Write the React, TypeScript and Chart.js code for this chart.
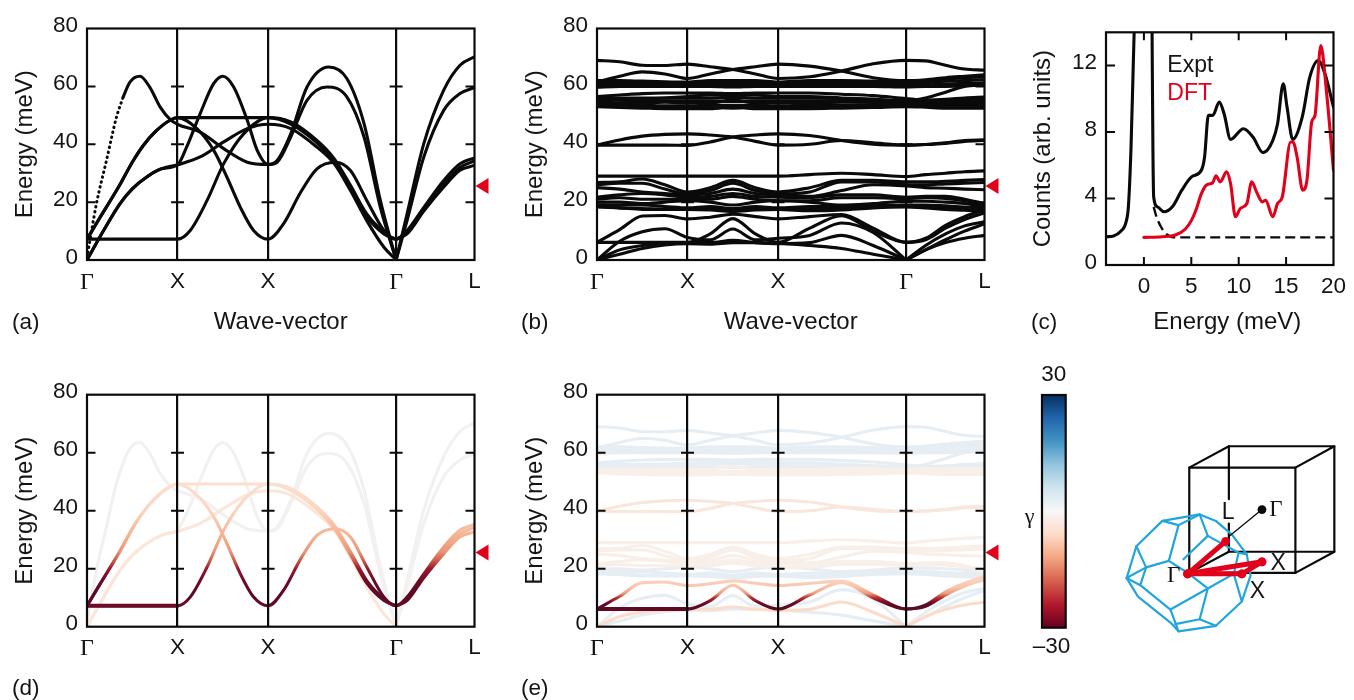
import React, { useEffect, useRef } from "react";
import { Chart, registerables } from "chart.js";

Chart.register(...registerables);

const SANS = "'Liberation Sans', Arial, sans-serif";
const SERIF = "'Liberation Serif', serif";
const BLACK = "#0a0a0a";
const RED = "#e2001a";
const INK = "#141414";

// ---- shared axis content
const pathTicks = [0, 1, 2, 3.414, 4.28];
const pathLabels = ["Γ", "X", "X", "Γ", "L"];
const energyTicks = [0, 20, 40, 60, 80];
const markerEnergy = 25.6;

// ---- panel (a)/(d): bands as [wave-vector, energy]
const bandOne: number[][] = [[0, 7.2], [0.5, 7.2], [1, 7.2], [1.14, 10.2], [1.325, 20.5], [1.51, 33.3], [1.73, 43.6], [2, 49.2], [2.25, 47.7], [2.54, 41.3], [2.73, 35], [2.91, 25.8], [3.09, 15.9], [3.28, 9.6], [3.414, 7.2], [3.535, 10.2], [3.72, 18.2], [3.94, 27.5], [4.12, 33.3], [4.28, 35.3]];
const bandTwo: number[][] = [[0, 7.2], [0.14, 14.5], [0.35, 25.3], [0.51, 34.3], [0.62, 39.5], [0.76, 44.5], [0.917, 48.3], [1, 49.2], [1.214, 45.4], [1.4, 37.9], [1.546, 28.6], [1.694, 18.2], [1.84, 10.2], [2, 7.2], [2.17, 12.5], [2.36, 23.4], [2.54, 31.5], [2.744, 33.8], [2.91, 30.9], [3.09, 20.6], [3.28, 10.2], [3.414, 7.2], [3.535, 9.9], [3.72, 17.3], [3.94, 26.3], [4.12, 32], [4.28, 34.2]];
const bandThree: number[][] = [[0, 0], [0.18, 10], [0.365, 19.5], [0.5, 24.6], [0.66, 28.7], [0.82, 31.5], [1, 32.9], [1.25, 35.6], [1.51, 40.8], [1.77, 45.4], [2, 46.9], [2.25, 45.4], [2.54, 39], [2.73, 33.3], [2.91, 24], [3.09, 13.6], [3.28, 4.4], [3.414, 0]];
const bandThreeEnd: number[][] = [[3.414, 7.2], [3.535, 9], [3.72, 16.9], [3.94, 25.2], [4.12, 31], [4.28, 32.7]];
const bandFour: number[][] = [[0, 0.9], [0.104, 19.4], [0.215, 34.4], [0.326, 49.4], [0.4, 56.4], [0.474, 61.5], [0.585, 63.5], [0.696, 59.6], [0.807, 52.9], [0.92, 48.5], [1, 46.9], [1.25, 44.2], [1.51, 38.5], [1.77, 33.8], [2, 33], [2.1, 34.4], [2.25, 43.6], [2.43, 59.8], [2.67, 66.7], [2.87, 62.7], [3.06, 47.1], [3.24, 20.6], [3.414, 0], [3.535, 15.9], [3.72, 40.2], [3.94, 58.7], [4.12, 67.3], [4.28, 70.2]];
const bandFive: number[][] = [[0, 0], [0.18, 10], [0.365, 19.5], [0.5, 24.6], [0.66, 28.7], [0.82, 31.5], [1, 32.9], [1.1, 39], [1.25, 50.6], [1.4, 61], [1.5, 63.5], [1.62, 59.8], [1.77, 48.3], [1.88, 37.9], [2, 33], [2.1, 33.8], [2.25, 42.5], [2.43, 55.2], [2.65, 59.8], [2.87, 56.4], [3.06, 42.5], [3.24, 18.2], [3.414, 0], [3.535, 13.6], [3.72, 35.6], [3.94, 51.7], [4.12, 57.5], [4.28, 59.6]];
const bandSix: number[][] = [[0, 7.2], [0.14, 14.5], [0.35, 25.3], [0.51, 34.3], [0.62, 39.5], [0.76, 44.5], [0.917, 48.3], [1, 49.2], [1.5, 49.2], [2, 49.2], [2.25, 47], [2.54, 40.5], [2.73, 34], [2.91, 24.8], [3.09, 15], [3.28, 9], [3.414, 7.2]];
const acousticStyle = [bandOne, bandTwo, bandThree, bandThreeEnd, bandFive, bandSix];

// ---- panel (b)/(e): energy at these wave-vector stations
const stations = [0, 0.25, 0.5, 0.75, 1, 1.25, 1.5, 1.75, 2, 2.35, 2.7, 3.05, 3.414, 3.63, 3.85, 4.06, 4.28];
const h1 = [69, 68.5, 67.3, 67.2, 67.7, 66.8, 65.8, 64.3, 62.7, 63.3, 65.3, 67.8, 69, 68.8, 67.3, 66, 65.6];
const h2 = [61.5, 63.5, 65, 64.3, 62.7, 64.3, 65.8, 66.8, 67.7, 67, 65.3, 63, 62, 62.3, 63, 63.5, 64];
const h3 = [62, 62, 61.8, 61.6, 61.5, 62, 62, 62, 61.5, 62, 62, 61.8, 61.5, 61.5, 62.5, 63, 63.2];
const h4 = [61, 61, 61, 61, 61, 61, 61, 61, 61, 61, 61, 61.2, 61, 61.3, 61.8, 62, 62.3];
const h5 = [60.3, 60.3, 60.5, 60.5, 60.5, 60.5, 60.3, 60.5, 60.5, 60.5, 60.5, 60.5, 60.3, 60.5, 60.8, 61, 61.2];
const h6 = [59.7, 60, 60, 60, 60, 60, 59.8, 60, 60, 60, 60, 60, 59.8, 60, 60, 60.2, 60.5];
const h7 = [55.3, 55.5, 55.7, 56, 56.5, 57, 57, 57, 56.5, 56.5, 56, 55.5, 55, 56, 58, 60, 60.5];
const m1 = [56.5, 57, 57.5, 57.7, 57.7, 57.7, 57.5, 57.7, 57.7, 57.7, 57.3, 56.8, 55.8, 55.3, 55.5, 56, 56.3];
const m2 = [56, 56, 56, 56, 56, 56, 56.2, 56, 56, 56, 55.8, 55.5, 55, 55, 55.2, 55.5, 55.5];
const m3 = [55, 55.2, 55, 55, 55, 55, 54.8, 55, 55, 55, 55, 54.8, 54.8, 55, 55, 55, 55];
const m4 = [54, 54.3, 54.3, 54.5, 54.3, 54.3, 55.3, 54.3, 54.3, 54.3, 54.5, 54.5, 54.3, 54.5, 54.5, 54.5, 54.5];
const m5 = [53.7, 53.5, 53.5, 53.3, 53.3, 53.5, 53.5, 53.5, 53.3, 53.5, 53.5, 53.7, 53.8, 53.8, 53.8, 53.8, 54];
const m6 = [53.3, 53, 52.8, 52.7, 52.7, 52.7, 52.5, 52.7, 52.7, 52.7, 52.8, 53, 53.3, 53.3, 53.2, 53, 53];
const m7 = [53, 52.7, 52.5, 52.3, 52.3, 52.3, 53, 52.3, 52.3, 52.3, 52.5, 52.7, 53, 52.8, 52.5, 52.5, 52.5];
const c1 = [39.7, 41.5, 42.8, 43.4, 43.6, 43.2, 42.5, 41, 39.7, 40, 41.3, 40.5, 39.7, 39.9, 40.5, 41.3, 41.5];
const c2 = [39.7, 39.7, 39.7, 39.7, 39.6, 40.8, 42.5, 43.2, 43.6, 43, 41.3, 40, 39.7, 39.9, 40.3, 41, 41.3];
const t1 = [29, 29, 29, 29, 29, 29, 29, 29, 29, 29.5, 30, 29.5, 28.8, 29.5, 30, 30.5, 30.8];
const t2 = [26.8, 27, 28, 26, 23.5, 25, 27.5, 25, 23.5, 25, 27.5, 27.5, 27, 27, 27.2, 27.5, 27.8];
const t3 = [26, 26.5, 26.5, 24.5, 22.8, 24, 26.5, 24, 22.8, 23.5, 27, 27, 26, 26, 26.3, 26.5, 26.8];
const t4 = [25, 24.5, 23.5, 23, 22.5, 23, 24.5, 23, 22.5, 22, 24, 26, 25.6, 25, 24.8, 24.5, 24.3];
const t5 = [21.7, 22.5, 23, 22.5, 21.7, 22, 23, 22, 21.7, 21.5, 22.5, 22.5, 21.7, 22, 22, 21, 19.5];
const t6 = [21, 21.5, 21, 21, 21, 21, 22, 21, 20.5, 20.5, 21.5, 21.5, 21.2, 21.5, 21.3, 20.5, 19];
const t7 = [20, 20, 19.5, 20, 20.5, 20, 19, 20, 20.5, 20, 19, 19.5, 20.3, 20.3, 20, 19.5, 18.5];
const t8 = [19, 19, 19, 18.5, 18, 18.5, 17.8, 18.5, 18, 18.5, 18.5, 19, 19, 19, 18.7, 18.3, 18];
const t9 = [18.5, 18, 17.8, 17.5, 17.8, 17.8, 17, 17.8, 17.8, 17.5, 17.8, 18.5, 18.5, 18.3, 18, 17.5, 17];
const t10 = [18.3, 18, 17.5, 17.5, 17.5, 17.3, 16.8, 17.3, 17.5, 17, 17.3, 18, 18.3, 18, 17.5, 17.2, 16.8];
const b1 = [6.1, 10.5, 15.2, 15.4, 14.2, 14.8, 15.8, 15, 14.2, 15, 15.7, 11, 6.1, 7.5, 12, 15, 17.3];
const b2 = [6.1, 6.1, 6.1, 6.1, 6.1, 9, 14.3, 9, 6.1, 11, 15.3, 10, 6.1, 7, 11, 14, 16.3];
const b3 = [0, 6.5, 9.8, 10.8, 7.8, 7, 10.7, 7, 7.5, 8.5, 12.8, 9.5, 0, 5, 9, 11.8, 13.2];
const b4 = [0, 3.5, 5, 5.6, 6, 6, 6.8, 6, 5.6, 6, 8.5, 5, 0, 3.5, 6, 7.5, 8.5];
const b5 = [0, 2, 4, 5.2, 5.6, 5.5, 6, 6, 5.8, 5, 4, 2, 0, 3.5, 7, 10, 12.5];
const allOpticalBands = [h1, h2, h3, h4, h5, h6, h7, m1, m2, m3, m4, m5, m6, m7, c1, c2, t1, t2, t3, t4, t5, t6, t7, t8, t9, t10, b1, b2, b3, b4, b5];

// ---- panel (c)
const exptRise: number[][] = [[-4, 1.7], [-3.2, 1.75], [-2.5, 2], [-1.88, 2.6], [-1.64, 3.5], [-1.37, 6.9], [-1.13, 11.9], [-1.03, 14]];
const exptTail: number[][] = [[0.86, 14], [0.95, 7], [1.03, 4.1], [1.44, 3.5], [2.1, 3.2], [3, 3.5], [4, 4.5], [5.03, 5.3], [6.06, 5.7], [6.4, 6.5], [6.8, 9], [7.26, 9], [7.95, 9.8], [8.46, 9.1], [9.14, 7.56], [10.5, 8.2], [11.5, 7.7], [12.57, 6.76], [13.6, 7.5], [14.1, 8.5], [14.7, 10.9], [15.1, 9.5], [15.7, 7.56], [16.7, 8.9], [17.5, 11.3], [18.4, 12.3], [19.1, 11.5], [20, 9.5]];
const elasticLine: number[][] = [[1.03, 3.5], [1.27, 3], [1.8, 2.3], [2.3, 1.9], [3.3, 1.66], [20, 1.66]];
const dftCurve: number[][] = [[0, 1.66], [1.95, 1.7], [3.32, 1.8], [4.35, 2.15], [5.03, 2.7], [5.55, 3.4], [6, 4.2], [6.58, 4.8], [7.26, 4.95], [7.6, 5.36], [8.05, 5], [8.73, 5.6], [9.14, 4.9], [9.66, 2.9], [10.17, 3.4], [10.86, 3.7], [11.37, 5], [11.88, 4.4], [12.5, 3.8], [12.84, 3.9], [13.6, 2.9], [14.1, 3.7], [14.6, 4.1], [15.48, 7.4], [15.72, 7.4], [16.16, 6.5], [16.75, 4.5], [17.2, 5.1], [17.7, 8.6], [18.05, 9], [18.66, 13.2], [19.25, 10.5], [20, 5.7]];
const countTicks = [0, 4, 8, 12];
const meVTicks = [0, 5, 10, 15, 20];

// ---- colour bar
const gammaRange = [-30, 30];
const gammaStops = ["#67001f", "#b2182b", "#d6604d", "#f4a582", "#fddbc7", "#f7f7f7", "#d1e5f0", "#92c5de", "#4393c3", "#2166ac", "#053061"];

// ---- colour scales along energy for (d), (e)
const toneDValues = [7, 10, 16, 20, 23, 26, 30, 34, 40, 49];
const toneDColors = ["#6e0c28", "#5a0a24", "#6d0a26", "#9a1a2c", "#cf5f4c", "#eb9577", "#f5ab88", "#f6bd9f", "#fad5c0", "#fbdfcf"];
const toneEValues = [7.5, 8.5, 10, 11.5, 13.5, 16, 20];
const toneEColors = ["#5e0a24", "#7a0a26", "#b8322f", "#ee9c7d", "#f8c3a8", "#fad2bd", "#fad8c6"];
const FAINT = "#f2f1ef";
const PALE = "#fbe6da";
const ICE = "#e6eef4";
const MIST = "#f8efe9";
const PEACH = "#f9e6dc";
const SALMON = "#fbdcca";

// ---- Brillouin-zone sketch, drawn on a 1002x1020 sketch scale
const cubeLines: number[][][] = [
  [[508, 318], [835, 318], [835, 642], [508, 642], [508, 318]],
  [[508, 318], [630, 252], [955, 252], [835, 318]],
  [[955, 252], [955, 577], [835, 642]],
  [[508, 642], [630, 577], [955, 577]],
  [[630, 252], [630, 415]],
  [[630, 490], [630, 577]],
];
const zoneLines: number[][][] = [
  [[425, 482], [345, 560], [315, 658], [350, 715], [450, 795], [475, 822], [590, 805], [670, 730], [697, 650], [685, 585], [640, 525], [590, 482], [540, 462], [425, 482]],
  [[425, 482], [475, 495], [540, 462]],
  [[475, 495], [445, 605]],
  [[540, 462], [565, 528]],
  [[345, 560], [375, 625], [315, 658]],
  [[375, 625], [445, 605], [500, 640]],
  [[375, 625], [357, 680], [450, 755]],
  [[315, 658], [357, 680]],
  [[450, 755], [565, 690], [540, 785]],
  [[450, 755], [475, 822]],
  [[465, 800], [540, 785], [590, 805]],
  [[565, 690], [645, 645], [670, 730]],
  [[645, 645], [660, 580], [685, 585]],
  [[565, 528], [490, 600]],
  [[565, 528], [660, 580]],
  [[500, 640], [565, 690]],
];
const pointerLine: number[][] = [[630, 530], [732, 447]];
const redPath: number[][][] = [
  [[503, 645], [620, 545]],
  [[503, 645], [732, 608]],
  [[503, 645], [670, 645]],
  [[670, 645], [732, 608]],
];

type Note = { text: string; x: number; y: number; font: string; color?: string; align?: CanvasTextAlign };

const toXY = (pts: number[][]) => pts.map(([x, y]) => ({ x, y }));
const slice = (pts: number[][], lo: number, hi: number) => pts.filter(([x]) => x >= lo && x <= hi);
const stationPts = (vals: number[]) => vals.map((y, i) => [stations[i], y]);

// Chart.js paints the first dataset last; lists below are written bottom layer first
const bottomFirst = (list: any[]) => list.slice().reverse();

// acoustic branches meet the zero of energy in a sharp V, so the curve is cut there
function cutAtZero(pts: number[][]) {
  const out: number[][][] = [];
  let cur: number[][] = [];
  pts.forEach((p, i) => {
    cur.push(p);
    if (p[1] === 0 && i > 0 && i < pts.length - 1) {
      out.push(cur);
      cur = [p];
    }
  });
  out.push(cur);
  return out;
}

function toneGradient(values: number[], colors: string[]) {
  return (ctx: any) => {
    const chart = ctx.chart;
    if (!chart.chartArea) return colors[0];
    const y = chart.scales.y;
    const lo = values[0];
    const hi = values[values.length - 1];
    const g = chart.ctx.createLinearGradient(0, y.getPixelForValue(lo), 0, y.getPixelForValue(hi));
    values.forEach((v, i) => g.addColorStop((v - lo) / (hi - lo), colors[i]));
    return g;
  };
}

const WIDTH = 3.1;

const line = (pts: number[][], color: any, width = WIDTH, extra: any = {}) => ({
  data: toXY(pts),
  showLine: true,
  pointRadius: 0,
  borderColor: color,
  borderWidth: width,
  cubicInterpolationMode: "monotone",
  borderJoinStyle: "round",
  borderCapStyle: "round",
  ...extra,
});

const lines = (pts: number[][], color: any, width = WIDTH) => cutAtZero(pts).map((p) => line(p, color, width));

const marksPlugin = {
  id: "marks",
  afterDraw(chart: any, _args: any, o: any) {
    const { ctx, chartArea: a, scales } = chart;
    const sx = scales.x;
    const sy = scales.y;
    ctx.save();
    ctx.strokeStyle = BLACK;
    ctx.lineWidth = 2.2;
    if (o.frame !== false) {
      ctx.strokeRect(a.left, a.top, a.right - a.left, a.bottom - a.top);
    }
    ctx.lineWidth = 2;
    ctx.beginPath();
    (o.yTicks || []).forEach((v: number) => {
      const p = sy.getPixelForValue(v);
      if (o.leftLen) { ctx.moveTo(a.left, p); ctx.lineTo(a.left + o.leftLen, p); }
      if (o.rightLen) { ctx.moveTo(a.right, p); ctx.lineTo(a.right - o.rightLen, p); }
      (o.crossX || []).forEach((x: number) => {
        const px = sx.getPixelForValue(x);
        ctx.moveTo(px - 6.5, p);
        ctx.lineTo(px + 6.5, p);
      });
    });
    (o.xTicks || []).forEach((v: number) => {
      const p = sx.getPixelForValue(v);
      ctx.moveTo(p, a.bottom); ctx.lineTo(p, a.bottom - 8);
      ctx.moveTo(p, a.top); ctx.lineTo(p, a.top + 8);
    });
    ctx.stroke();
    if (o.marker !== undefined) {
      const p = sy.getPixelForValue(o.marker);
      ctx.fillStyle = RED;
      ctx.beginPath();
      ctx.moveTo(a.right + 1, p);
      ctx.lineTo(a.right + 14, p - 8);
      ctx.lineTo(a.right + 14, p + 8);
      ctx.closePath();
      ctx.fill();
    }
    (o.notes || []).forEach((n: Note) => {
      ctx.font = n.font;
      ctx.fillStyle = n.color || INK;
      ctx.textAlign = n.align || "center";
      ctx.textBaseline = "middle";
      ctx.fillText(n.text, sx.getPixelForValue(n.x), sy.getPixelForValue(n.y));
    });
    ctx.restore();
  },
};

const TICK_FONT = { family: SANS, size: 22.5 };
const TITLE_FONT = { family: SANS, size: 24, lineHeight: 1 };

function fixedTicks(vals: number[]) {
  return (s: any) => {
    s.ticks = vals.map((value) => ({ value }));
  };
}

function bandOptions(titleBottom: number, height: number, top: number, plotHeight: number) {
  return {
    responsive: false,
    animation: false,
    events: [],
    layout: { padding: { left: 0, right: 25.5, top, bottom: 0 } },
    plugins: { legend: { display: false }, tooltip: { enabled: false }, title: { display: false }, marks: { frame: true, yTicks: [20, 40, 60], crossX: [1, 2, 3.414], rightLen: 9, leftLen: 8.5, marker: markerEnergy } },
    scales: {
      x: {
        type: "linear",
        min: 0,
        max: 4.28,
        afterBuildTicks: fixedTicks(pathTicks),
        afterFit: (s: any) => { s.height = height - top - plotHeight; },
        grid: { z: 1, color: BLACK, lineWidth: (c: any) => (c.index === 0 || c.index === 4 ? 0 : 2.2), drawTicks: false },
        border: { display: false },
        ticks: {
          autoSkip: false,
          maxRotation: 0,
          padding: 8,
          color: INK,
          font: (c: any) => (c.index === 0 || c.index === 3 ? { family: SERIF, size: 24 } : TICK_FONT),
          callback: (_v: any, i: number) => pathLabels[i],
        },
        title: { display: true, text: "Wave-vector", color: INK, font: TITLE_FONT, padding: { top: 0, bottom: height - titleBottom - 12 } },
      },
      y: {
        min: 0,
        max: 80,
        afterBuildTicks: fixedTicks(energyTicks),
        afterFit: (s: any) => { s.width = 87; },
        grid: { display: false, drawTicks: false },
        border: { display: false },
        ticks: { padding: 9, color: INK, font: TICK_FONT, labelOffset: -2.7 },
        title: { display: true, text: "Energy (meV)", color: INK, font: TITLE_FONT, padding: { top: 13, bottom: 0 } },
      },
    },
  };
}

function Panel({ left, top, width, height, make }: { left: number; top: number; width: number; height: number; make: (c: HTMLCanvasElement) => Chart }) {
  const ref = useRef<HTMLCanvasElement>(null);
  useEffect(() => {
    const chart = make(ref.current as HTMLCanvasElement);
    return () => chart.destroy();
  }, []);
  return <canvas ref={ref} width={width} height={height} style={{ position: "absolute", left, top, width, height }} />;
}

const makeA = (c: HTMLCanvasElement) =>
  new Chart(c, {
    type: "scatter",
    data: {
      datasets: [
        ...acousticStyle.flatMap((b) => lines(b, BLACK)),
        line(slice(bandFour, 0, 0.4), BLACK, 3, { borderDash: [0.5, 4.6] }),
        ...lines(slice(bandFour, 0.4, 5), BLACK),
      ] as any,
    },
    options: bandOptions(322, 340, 28.5, 231.5) as any,
    plugins: [marksPlugin],
  });

const makeB = (c: HTMLCanvasElement) =>
  new Chart(c, {
    type: "scatter",
    data: { datasets: allOpticalBands.flatMap((b) => lines(stationPts(b), BLACK)) as any },
    options: bandOptions(322, 340, 28.5, 231.5) as any,
    plugins: [marksPlugin],
  });

const makeC = (c: HTMLCanvasElement) =>
  new Chart(c, {
    type: "scatter",
    data: {
      datasets: bottomFirst([
        line(elasticLine, BLACK, 2.4, { borderDash: [10, 5], borderCapStyle: "butt" }),
        line(exptRise, BLACK),
        line(exptTail, BLACK),
        line(dftCurve, RED),
      ]) as any,
    },
    options: {
      responsive: false,
      animation: false,
      events: [],
      layout: { padding: { left: 0, right: 15, top: 32.3, bottom: 0 } },
      plugins: {
        legend: { display: false },
        tooltip: { enabled: false },
        marks: {
          frame: true,
          yTicks: [4, 8, 12],
          leftLen: 9,
          rightLen: 9,
          xTicks: [0, 5, 10, 15],
          notes: [
            { text: "Expt", x: 2.47, y: 12, font: `23px ${SANS}`, align: "left" },
            { text: "DFT", x: 2.47, y: 10.3, font: `23px ${SANS}`, color: RED, align: "left" },
            { text: "Energy (meV)", x: 8.8, y: -3.43, font: `24px ${SANS}` },
          ],
        },
      },
      scales: {
        x: {
          type: "linear",
          min: -4,
          max: 20,
          afterBuildTicks: fixedTicks(meVTicks),
          afterFit: (s: any) => { s.height = 340 - 265; },
          grid: { display: false, drawTicks: false },
          border: { display: false },
          ticks: { padding: 8, color: INK, font: TICK_FONT, autoSkip: false, maxRotation: 0 },
        },
        y: {
          min: 0,
          max: 14,
          afterBuildTicks: fixedTicks(countTicks),
          afterFit: (s: any) => { s.width = 86; },
          grid: { display: false, drawTicks: false },
          border: { display: false },
          ticks: { padding: 9, color: INK, font: TICK_FONT, labelOffset: -2.3 },
          title: { display: true, text: "Counts (arb. units)", color: INK, font: TITLE_FONT, padding: { top: 11.3, bottom: 0 } },
        },
      },
    } as any,
    plugins: [marksPlugin],
  });

const makeD = (c: HTMLCanvasElement) => {
  const tone = toneGradient(toneDValues, toneDColors);
  return new Chart(c, {
    type: "scatter",
    data: {
      datasets: bottomFirst([
        ...lines(bandFour, FAINT),
        ...lines(slice(bandFive, 1, 5), FAINT),
        line(slice(bandFive, 0, 1), PALE),
        ...lines(bandThree, PALE),
        line(bandThreeEnd, tone),
        line(bandSix, tone),
        line(bandTwo, tone),
        line(bandOne, tone),
        line(slice(bandOne, 0, 1), tone, 4),
      ]) as any,
    },
    options: bandOptions(688, 340, 34.7, 232) as any,
    plugins: [marksPlugin],
  });
};

const makeE = (c: HTMLCanvasElement) => {
  const tone = toneGradient(toneEValues, toneEColors);
  const ice = [h1, h2, h3, h4, h5, h6, h7, m1, m2, m3, t7, t8, t9, t10, b3, b5];
  const peach = [m4, m5, m6, m7, t1, t2, t3, t4, t5, t6];
  return new Chart(c, {
    type: "scatter",
    data: {
      datasets: bottomFirst([
        ...ice.flatMap((b) => lines(stationPts(b), ICE)),
        ...peach.map((b) => line(stationPts(b), MIST)),
        line(stationPts(c1), PEACH),
        line(stationPts(c2), PEACH),
        ...lines(stationPts(b4), SALMON),
        line(stationPts(b1), tone),
        line(stationPts(b2), tone),
        line(slice(stationPts(b2), 0, 1), tone, 4),
      ]) as any,
    },
    options: bandOptions(688, 340, 34.7, 232) as any,
    plugins: [marksPlugin],
  });
};

const makeBar = (c: HTMLCanvasElement) =>
  new Chart(c, {
    type: "bar",
    data: {
      labels: ["γ"],
      datasets: [
        {
          data: [gammaRange],
          barPercentage: 1,
          categoryPercentage: 1,
          backgroundColor: (ctx: any) => {
            const { chart } = ctx;
            if (!chart.chartArea) return gammaStops[0];
            const a = chart.chartArea;
            const g = chart.ctx.createLinearGradient(0, a.bottom, 0, a.top);
            gammaStops.forEach((s, i) => g.addColorStop(i / (gammaStops.length - 1), s));
            return g;
          },
        },
      ] as any,
    },
    options: {
      responsive: false,
      animation: false,
      events: [],
      layout: { padding: { left: 22, right: 24.3, top: 35, bottom: 32.3 } },
      plugins: {
        legend: { display: false },
        tooltip: { enabled: false },
        marks: {
          frame: true,
          notes: [
            { text: "30", x: 0, y: 35.2, font: `22.5px ${SANS}` },
            { text: "–30", x: -0.1, y: -34.8, font: `22.5px ${SANS}` },
            { text: "γ", x: -1.02, y: -1.5, font: `22px ${SERIF}` },
          ],
        },
      },
      scales: {
        x: { display: false },
        y: { display: false, min: gammaRange[0], max: gammaRange[1] },
      },
    } as any,
    plugins: [marksPlugin],
  });

const makeSketch = (c: HTMLCanvasElement) => {
  const flat = { cubicInterpolationMode: "default", tension: 0 };
  return new Chart(c, {
    type: "scatter",
    data: {
      datasets: bottomFirst([
        ...cubeLines.map((l) => line(l, BLACK, 2.2, flat)),
        ...zoneLines.map((l) => line(l, "#21a5dd", 2.2, flat)),
        line(pointerLine, BLACK, 1.3, flat),
        line([pointerLine[1]], BLACK, 0, { ...flat, showLine: false, pointRadius: 4.4, pointBackgroundColor: BLACK, pointBorderWidth: 0 }),
        ...redPath.map((l) => line(l, RED, 5, { ...flat, pointRadius: 4.4, pointBackgroundColor: RED, pointBorderWidth: 0 })),
      ]) as any,
    },
    options: {
      responsive: false,
      animation: false,
      events: [],
      layout: { padding: 0 },
      plugins: {
        legend: { display: false },
        tooltip: { enabled: false },
        marks: {
          frame: false,
          notes: [
            { text: "Γ", x: 775, y: 447, font: `23px ${SERIF}` },
            { text: "L", x: 628, y: 458, font: `23px ${SANS}` },
            { text: "X", x: 782, y: 615, font: `23px ${SANS}` },
            { text: "X", x: 718, y: 700, font: `23px ${SANS}` },
            { text: "Γ", x: 460, y: 652, font: `23px ${SERIF}` },
          ],
        },
      },
      scales: {
        x: { display: false, type: "linear", min: 0, max: 1002 },
        y: { display: false, type: "linear", min: 0, max: 1020, reverse: true },
      },
    } as any,
    plugins: [marksPlugin],
  });
};

const panelLetters: { text: string; left: number; cy: number }[] = [
  { text: "(a)", left: 12, cy: 322 },
  { text: "(b)", left: 521, cy: 322 },
  { text: "(c)", left: 1031, cy: 322 },
  { text: "(d)", left: 12, cy: 688 },
  { text: "(e)", left: 521, cy: 688 },
];

export default function App() {
  return (
    <div style={{ position: "absolute", left: 0, top: 0, width: 1354, height: 700, overflow: "hidden", background: "#fff" }}>
      <Panel left={0} top={0} width={500} height={340} make={makeA} />
      <Panel left={510} top={0} width={500} height={340} make={makeB} />
      <Panel left={1020} top={0} width={334} height={340} make={makeC} />
      <Panel left={0} top={360} width={500} height={340} make={makeD} />
      <Panel left={510} top={360} width={500} height={340} make={makeE} />
      <Panel left={1020} top={360} width={334} height={340} make={makeSketch} />
      <Panel left={1020} top={360} width={70} height={300} make={makeBar} />
      {panelLetters.map((l) => (
        <div key={l.text} style={{ position: "absolute", left: l.left, top: l.cy - 13, height: 26, lineHeight: "26px", fontFamily: SANS, fontSize: 22.5, color: INK }}>
          {l.text}
        </div>
      ))}
    </div>
  );
}
